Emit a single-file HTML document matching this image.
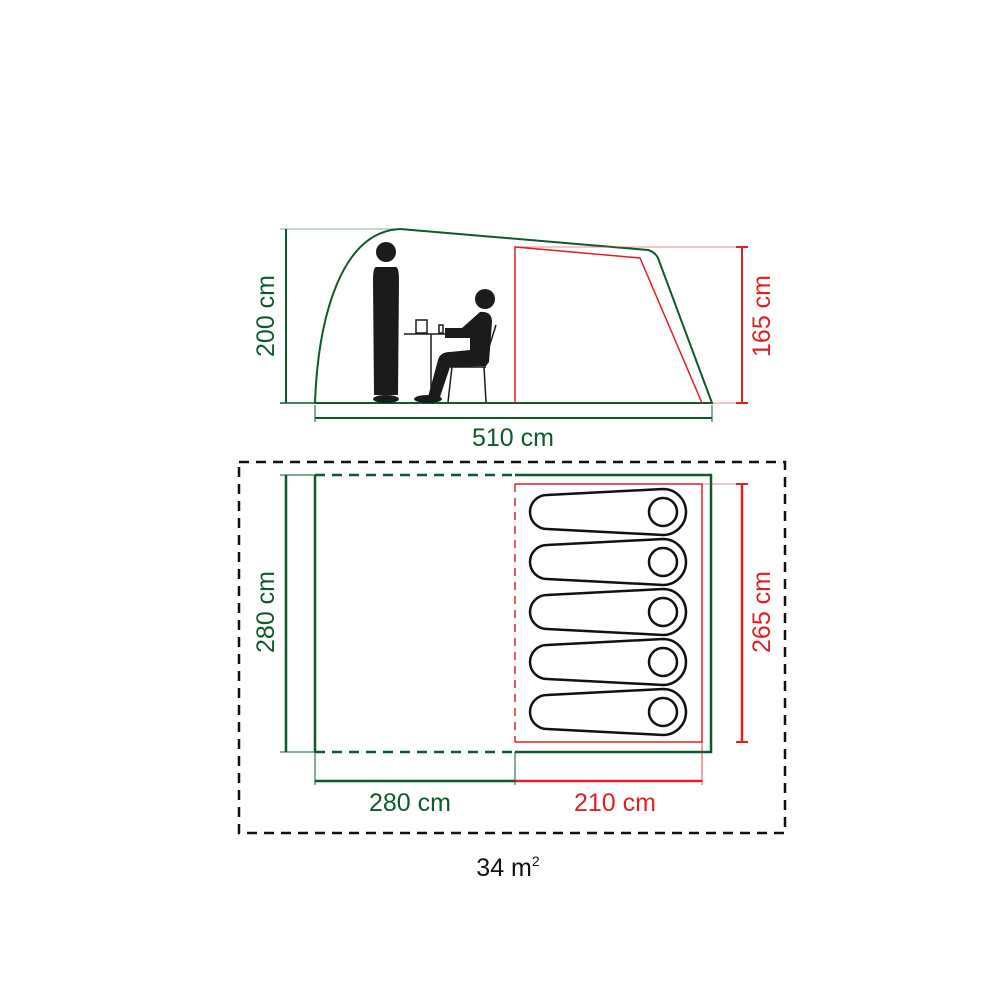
<!DOCTYPE html>
<html><head><meta charset="utf-8"><style>
html,body{margin:0;padding:0;background:#fff;width:1000px;height:1000px;overflow:hidden}
svg{display:block}
text{font-family:"Liberation Sans",sans-serif;font-size:25px}
</style></head><body>
<svg width="1000" height="1000" viewBox="0 0 1000 1000">
<g fill="none">
<!-- side view -->
<line x1="286" y1="229" x2="286" y2="403" stroke="#0d5a2c" stroke-width="2"/>
<line x1="280" y1="229" x2="400" y2="229" stroke="#0d5a2c" stroke-width="0.6"/>
<line x1="280" y1="403" x2="315" y2="403" stroke="#0d5a2c" stroke-width="1.5"/>
<path d="M315,403 C318,320 340,232 400,229 L648,250 Q655,252 658,258 L712,403 Z" stroke="#0d5a2c" stroke-width="2"/>
<path d="M515,403 L515,247 L640,258 L702,403" stroke="#e02020" stroke-width="1.5"/>
<line x1="515" y1="247" x2="748" y2="247" stroke="#e02020" stroke-width="0.6"/>
<line x1="712" y1="403" x2="748" y2="403" stroke="#e02020" stroke-width="0.6"/>
<line x1="742" y1="247" x2="742" y2="403" stroke="#e02020" stroke-width="2"/>
<line x1="736" y1="247" x2="748" y2="247" stroke="#e02020" stroke-width="2"/>
<line x1="736" y1="403" x2="748" y2="403" stroke="#e02020" stroke-width="2"/>
<line x1="315" y1="418" x2="712" y2="418" stroke="#0d5a2c" stroke-width="2"/>
<line x1="315" y1="405" x2="315" y2="422" stroke="#0d5a2c" stroke-width="1"/>
<line x1="712" y1="405" x2="712" y2="422" stroke="#0d5a2c" stroke-width="1"/>
</g>
<!-- people -->
<g fill="#1b1b1b">
<circle cx="386" cy="252" r="10"/>
<path d="M376,267 Q373,268 373,280 L374,395 L398,395 L399,280 Q399,268 396,267 Z"/>
<ellipse cx="386" cy="399" rx="13" ry="4"/>
<circle cx="485" cy="299" r="10"/>
<path d="M480,312 Q492,311 492,322 L489,362 L486,366 L450,367 L440,397 L428,397 L438,360 Q440,352 450,352 L470,350 L470,338 L445,338 L445,328 L462,328 Z"/>
<ellipse cx="428" cy="399" rx="14" ry="4"/>
</g>
<g stroke="#1b1b1b" fill="none" stroke-width="1.5">
<line x1="404" y1="334" x2="468" y2="334"/>
<line x1="431" y1="334" x2="431" y2="400"/>
<rect x="416" y="320" width="11" height="13" fill="#fff"/>
<rect x="439" y="325" width="4" height="8" fill="#fff"/>
<line x1="496" y1="325" x2="483" y2="366"/>
<line x1="450" y1="367" x2="486" y2="367"/>
<line x1="452" y1="367" x2="448" y2="402"/>
<line x1="484" y1="367" x2="486" y2="402"/>
</g>
<!-- floor plan -->
<g fill="none">
<rect x="239" y="462" width="546" height="371" stroke="#111" stroke-width="2.5" stroke-dasharray="10,7"/>
<line x1="315" y1="475" x2="515" y2="475" stroke="#0d5a2c" stroke-width="2.5" stroke-dasharray="10,7"/>
<line x1="315" y1="752" x2="515" y2="752" stroke="#0d5a2c" stroke-width="2.5" stroke-dasharray="10,7"/>
<path d="M515,475 L711,475 L711,752 L515,752" stroke="#0d5a2c" stroke-width="2.5"/>
<line x1="315" y1="475" x2="315" y2="752" stroke="#0d5a2c" stroke-width="2.5"/>
<line x1="315" y1="752" x2="315" y2="785" stroke="#0d5a2c" stroke-width="1"/>
<line x1="286" y1="475" x2="286" y2="752" stroke="#0d5a2c" stroke-width="2.5"/>
<line x1="280" y1="475" x2="315" y2="475" stroke="#0d5a2c" stroke-width="1"/>
<line x1="280" y1="752" x2="315" y2="752" stroke="#0d5a2c" stroke-width="1"/>
<line x1="515" y1="484" x2="515" y2="742" stroke="#e02020" stroke-width="1.5" stroke-dasharray="8,6"/>
<path d="M515,484 L702,484 L702,742 L515,742" stroke="#e02020" stroke-width="1.5"/>
<line x1="702" y1="742" x2="702" y2="785" stroke="#e02020" stroke-width="0.8"/>
<line x1="702" y1="484" x2="748" y2="484" stroke="#e02020" stroke-width="0.6"/>
<line x1="742" y1="484" x2="742" y2="742" stroke="#e02020" stroke-width="2.5"/>
<line x1="736" y1="484" x2="748" y2="484" stroke="#e02020" stroke-width="2"/>
<line x1="736" y1="742" x2="748" y2="742" stroke="#e02020" stroke-width="2"/>
<line x1="515" y1="752" x2="515" y2="785" stroke="#0d5a2c" stroke-width="1"/>
<line x1="315" y1="781" x2="515" y2="781" stroke="#0d5a2c" stroke-width="2.5"/>
<line x1="515" y1="781" x2="702" y2="781" stroke="#e02020" stroke-width="2.5"/>
</g>
<g fill="none" stroke="#111" stroke-width="2.5">
<g transform="translate(0,512)"><path d="M547,-17 L663,-23 A23,23 0 0 1 663,23 L547,17 A17,17 0 0 1 547,-17 Z"/><circle cx="663" cy="0" r="14"/></g>
<g transform="translate(0,562)"><path d="M547,-17 L663,-23 A23,23 0 0 1 663,23 L547,17 A17,17 0 0 1 547,-17 Z"/><circle cx="663" cy="0" r="14"/></g>
<g transform="translate(0,612)"><path d="M547,-17 L663,-23 A23,23 0 0 1 663,23 L547,17 A17,17 0 0 1 547,-17 Z"/><circle cx="663" cy="0" r="14"/></g>
<g transform="translate(0,662)"><path d="M547,-17 L663,-23 A23,23 0 0 1 663,23 L547,17 A17,17 0 0 1 547,-17 Z"/><circle cx="663" cy="0" r="14"/></g>
<g transform="translate(0,712)"><path d="M547,-17 L663,-23 A23,23 0 0 1 663,23 L547,17 A17,17 0 0 1 547,-17 Z"/><circle cx="663" cy="0" r="14"/></g>
</g>
<!-- labels -->
<text x="513" y="446" fill="#0d5a2c" text-anchor="middle">510 cm</text>
<text transform="translate(274,316) rotate(-90)" fill="#0d5a2c" text-anchor="middle">200 cm</text>
<text transform="translate(770,316) rotate(-90)" fill="#e02020" text-anchor="middle">165 cm</text>
<text transform="translate(274,612) rotate(-90)" fill="#0d5a2c" text-anchor="middle">280 cm</text>
<text transform="translate(770,612) rotate(-90)" fill="#e02020" text-anchor="middle">265 cm</text>
<text x="410" y="811" fill="#0d5a2c" text-anchor="middle">280 cm</text>
<text x="615" y="811" fill="#e02020" text-anchor="middle">210 cm</text>
<text x="508" y="876" fill="#111" text-anchor="middle">34 m<tspan font-size="14" dy="-10">2</tspan></text>
</svg>
</body></html>
